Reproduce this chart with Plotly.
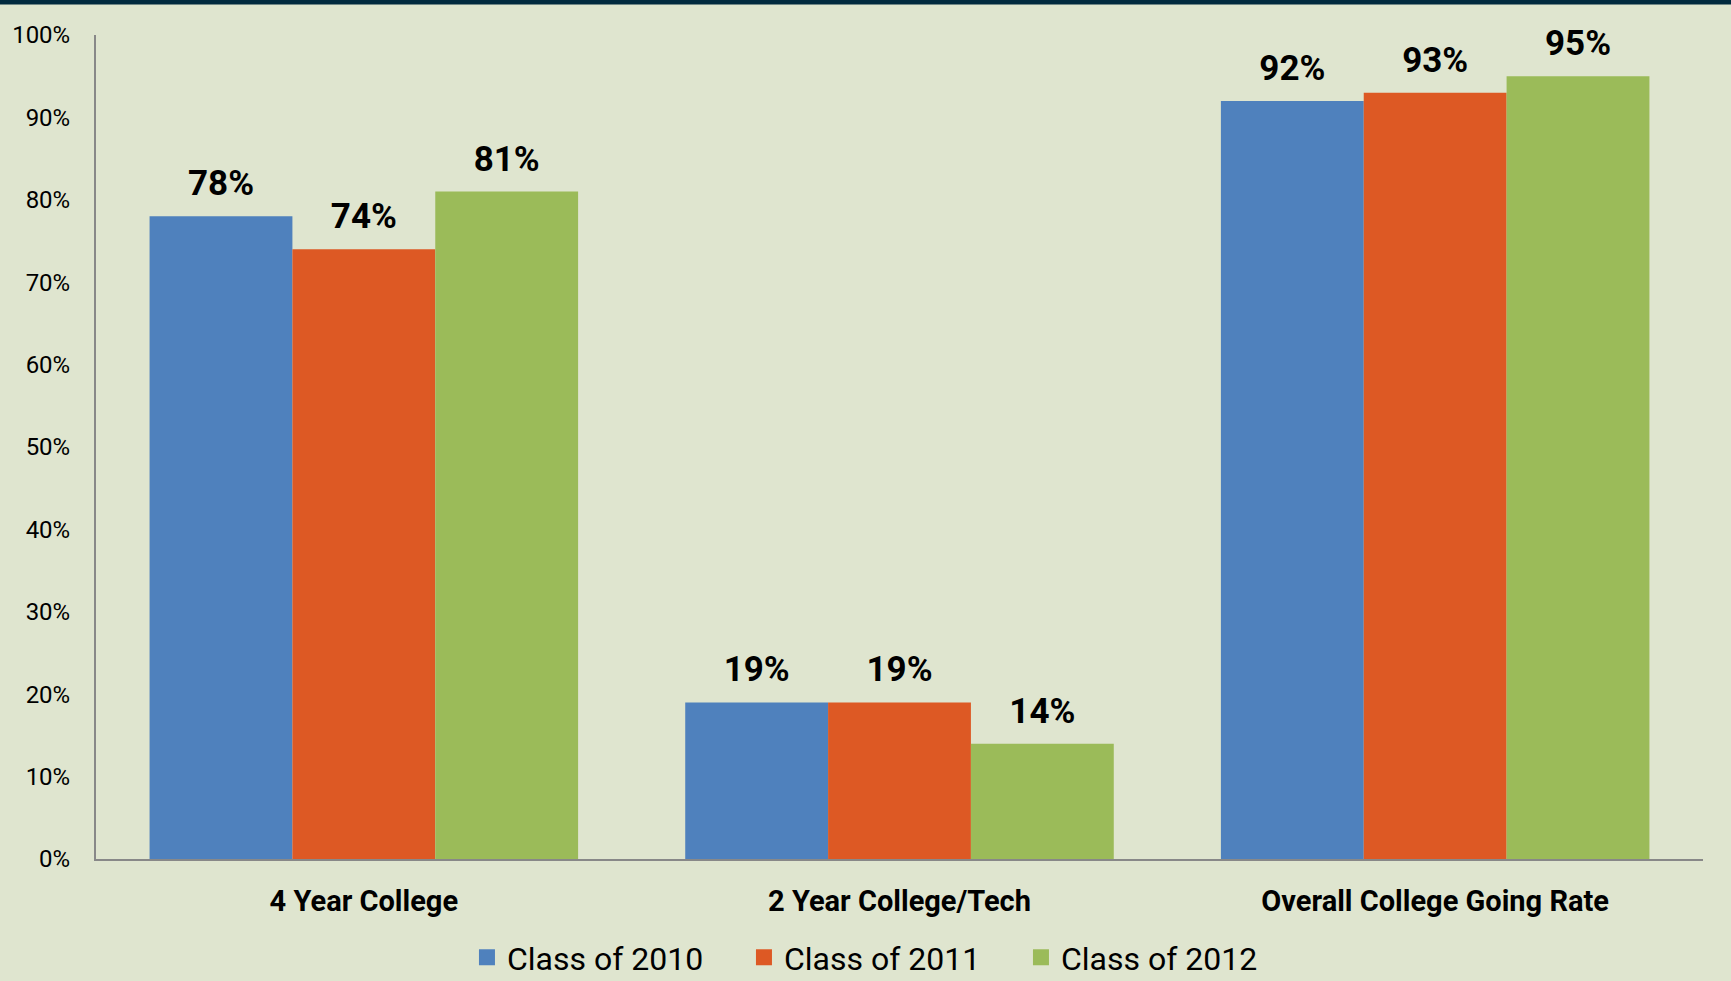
import plotly.graph_objects as go

categories = ["4 Year College", "2 Year College/Tech", "Overall College Going Rate"]
series_names = ["Class of 2010", "Class of 2011", "Class of 2012"]
class_2010 = [78, 19, 92]
class_2011 = [74, 19, 93]
class_2012 = [81, 14, 95]
series_values = [class_2010, class_2011, class_2012]
colors = ["#4F81BD", "#DD5924", "#9BBB59"]
y_ticks = [0, 10, 20, 30, 40, 50, 60, 70, 80, 90, 100]
y_tick_labels = ["0%", "10%", "20%", "30%", "40%", "50%", "60%", "70%", "80%", "90%", "100%"]

W, H = 1731, 981
ml, mr, mt, mb = 96, 28, 35, 122
pw, ph = W - ml - mr, H - mt - mb
BG = "#DFE5CF"
FONT = "Roboto"

fig = go.Figure()
for name, vals, col in zip(series_names, series_values, colors):
    fig.add_trace(go.Bar(
        x=categories, y=vals, name=name, marker_color=col,
        marker_line_width=0, showlegend=False,
        texttemplate="<span style='font-size:35px'><b>%{y:.0f}%</b></span><br>\u00a0",
        textposition="outside", cliponaxis=False,
        textfont=dict(family=FONT, size=11.5, color="#000000"),
    ))
for name, col in zip(series_names, colors):
    fig.add_trace(go.Scatter(
        x=[None], y=[None], mode="markers", name=name,
        marker=dict(symbol="square", size=16, color=col),
    ))

fig.update_layout(
    width=W, height=H,
    paper_bgcolor=BG, plot_bgcolor=BG,
    margin=dict(l=ml, r=mr, t=mt, b=mb, autoexpand=False),
    barmode="group", bargap=0.2, bargroupgap=0,
    font=dict(family=FONT, color="#000000"),
    showlegend=True,
    legend=dict(
        orientation="h", xref="container", yref="container",
        x=0.5098, xanchor="center", y=0.024, yanchor="middle",
        font=dict(family=FONT, size=32, color="#000000"),
        bgcolor="rgba(0,0,0,0)", entrywidth=232, itemsizing="trace",
    ),
    xaxis=dict(
        showline=True, linecolor="#888888", linewidth=2,
        ticks="", showgrid=False, zeroline=False,
        tickfont=dict(family=FONT, size=29, color="#000000", weight="bold"),
        ticklabelstandoff=15,
    ),
    yaxis=dict(
        range=[0, 100], tickmode="array", tickvals=y_ticks, ticktext=y_tick_labels,
        showline=True, linecolor="#888888", linewidth=2,
        ticks="", showgrid=False, zeroline=False,
        tickfont=dict(family=FONT, size=24, color="#000000"),
        ticklabelstandoff=19,
    ),
    shapes=[dict(
        type="rect", xref="paper", yref="paper",
        x0=-ml / pw, x1=1 + mr / pw,
        y0=1 + (mt - 4.5) / ph, y1=1 + (mt + 2) / ph,
        fillcolor="#022B3F", line_width=0, layer="above",
    )],
)

fig.write_html(
    "out.html",
    config={"displayModeBar": False},
    post_script="document.body.style.margin='0';document.body.style.padding='0';",
)
